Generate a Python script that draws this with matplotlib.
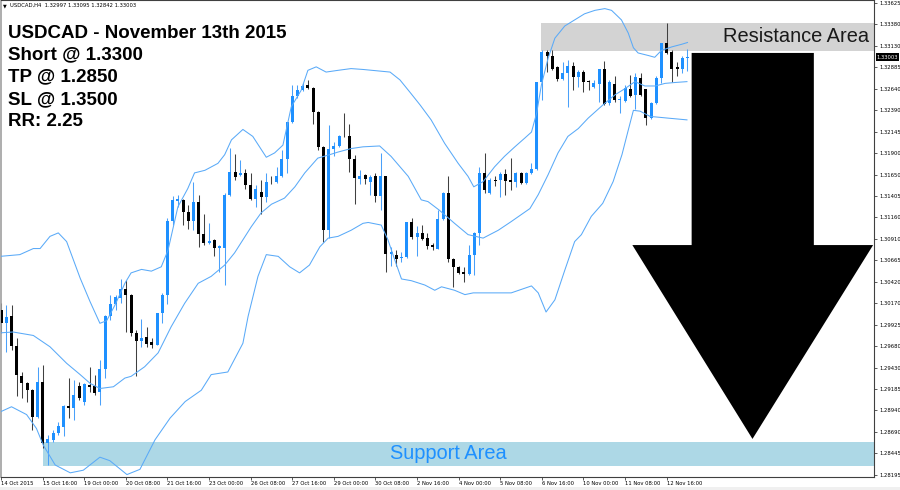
import numpy as np
import matplotlib
matplotlib.use('Agg')
import matplotlib.pyplot as plt
import matplotlib.transforms as mtransforms
from matplotlib.patches import Rectangle, Polygon

# USDCAD H4 candles, 14 Oct 2015 08:00 -> 13 Nov 2015 08:00
opens = [1.3009, 1.2994, 1.3002, 1.2968, 1.2933, 1.2925, 1.2917, 1.2886, 1.2927, 1.2856,
         1.2860, 1.2868, 1.2875, 1.2899, 1.2897, 1.2922, 1.2903, 1.2923, 1.2922, 1.2915,
         1.2942, 1.3002, 1.3016, 1.3023, 1.3033, 1.3027, 1.2983, 1.2974, 1.2978, 1.2972,
         1.2969, 1.3006, 1.3027, 1.3112, 1.3135, 1.3136, 1.3122, 1.3112, 1.3133, 1.3097,
         1.3086, 1.3090, 1.3081, 1.3081, 1.3142, 1.3168, 1.3165, 1.3167, 1.3153, 1.3137,
         1.3145, 1.3139, 1.3157, 1.3157, 1.3163, 1.3183, 1.3225, 1.3255, 1.3262, 1.3268,
         1.3265, 1.3237, 1.3197, 1.3101, 1.3194, 1.3198, 1.3210, 1.3210, 1.3183, 1.3160,
         1.3165, 1.3157, 1.3163, 1.3140, 1.3163, 1.3074, 1.3073, 1.3069, 1.3070, 1.3111,
         1.3093, 1.3098, 1.3092, 1.3084, 1.3080, 1.3114, 1.3144, 1.3068, 1.3059, 1.3053,
         1.3051, 1.3073, 1.3098, 1.3167, 1.3144, 1.3159, 1.3159, 1.3166, 1.3159, 1.3156,
         1.3167, 1.3155, 1.3167, 1.3172, 1.3271, 1.3306, 1.3301, 1.3289, 1.3275, 1.3282,
         1.3290, 1.3277, 1.3283, 1.3273, 1.3266, 1.3269, 1.3286, 1.3247, 1.3269, 1.3251,
         1.3250, 1.3264, 1.3257, 1.3276, 1.3263, 1.3230, 1.3247, 1.3276, 1.3316, 1.3306,
         1.3289, 1.3287, 1.32997]
highs = [1.3017, 1.3015, 1.3015, 1.2977, 1.2938, 1.2927, 1.2919, 1.2944, 1.2946, 1.2866,
         1.2871, 1.2881, 1.2900, 1.2931, 1.2929, 1.2927, 1.2925, 1.2944, 1.2935, 1.2952,
         1.3004, 1.3027, 1.3027, 1.3045, 1.3044, 1.3028, 1.2986, 1.2999, 1.2990, 1.2977,
         1.3006, 1.3029, 1.3115, 1.3140, 1.3142, 1.3137, 1.3130, 1.3157, 1.3142, 1.3120,
         1.3109, 1.3091, 1.3084, 1.3144, 1.3196, 1.3189, 1.3182, 1.3172, 1.3167, 1.3153,
         1.3159, 1.3167, 1.3163, 1.3174, 1.3193, 1.3226, 1.3268, 1.3268, 1.3270, 1.3274,
         1.3266, 1.3238, 1.3198, 1.3222, 1.3203, 1.3211, 1.3236, 1.3223, 1.3188, 1.3170,
         1.3166, 1.3165, 1.3167, 1.3190, 1.3164, 1.3082, 1.3078, 1.3076, 1.3111, 1.3115,
         1.3106, 1.3107, 1.3098, 1.3086, 1.3124, 1.3145, 1.3163, 1.3069, 1.3060, 1.3059,
         1.3084, 1.3099, 1.3174, 1.3190, 1.3161, 1.3163, 1.3168, 1.3172, 1.3184, 1.3168,
         1.3168, 1.3168, 1.3178, 1.3272, 1.3308, 1.3308, 1.3308, 1.3290, 1.3295, 1.3297,
         1.3295, 1.3285, 1.3285, 1.3274, 1.3274, 1.3287, 1.3296, 1.3274, 1.3278, 1.3255,
         1.3268, 1.3280, 1.3282, 1.3282, 1.3264, 1.3249, 1.3278, 1.3317, 1.3339, 1.3308,
         1.3295, 1.3301, 1.33095]
lows = [1.2983, 1.2961, 1.2963, 1.2910, 1.2908, 1.2904, 1.2871, 1.2885, 1.2850, 1.2831,
        1.2858, 1.2866, 1.2864, 1.2885, 1.2883, 1.2906, 1.2900, 1.2915, 1.2912, 1.2900,
        1.2931, 1.2998, 1.3009, 1.3017, 1.2984, 1.2979, 1.2933, 1.2967, 1.2967, 1.2966,
        1.2969, 1.2994, 1.3016, 1.3107, 1.3128, 1.3107, 1.3103, 1.3101, 1.3082, 1.3084,
        1.3085, 1.3071, 1.3053, 1.3038, 1.3140, 1.3159, 1.3163, 1.3149, 1.3136, 1.3128,
        1.3120, 1.3134, 1.3154, 1.3155, 1.3162, 1.3167, 1.3224, 1.3253, 1.3261, 1.3264,
        1.3223, 1.3193, 1.3088, 1.3092, 1.3186, 1.3197, 1.3208, 1.3168, 1.3131, 1.3154,
        1.3154, 1.3142, 1.3134, 1.3124, 1.3053, 1.3060, 1.3060, 1.3064, 1.3069, 1.3091,
        1.3071, 1.3090, 1.3079, 1.3078, 1.3079, 1.3113, 1.3065, 1.3036, 1.3051, 1.3042,
        1.3050, 1.3049, 1.3084, 1.3144, 1.3143, 1.3152, 1.3139, 1.3142, 1.3147, 1.3151,
        1.3154, 1.3154, 1.3166, 1.3170, 1.3251, 1.3283, 1.3285, 1.3273, 1.3274, 1.3243,
        1.3262, 1.3266, 1.3260, 1.3262, 1.3265, 1.3249, 1.3245, 1.3245, 1.3249, 1.3236,
        1.3249, 1.3254, 1.3241, 1.3255, 1.3222, 1.3229, 1.3246, 1.3270, 1.3304, 1.3272,
        1.3278, 1.3282, 1.32842]
closes = [1.2994, 1.3001, 1.2968, 1.2934, 1.2925, 1.2917, 1.2886, 1.2927, 1.2856, 1.2861,
          1.2868, 1.2876, 1.2899, 1.2897, 1.2911, 1.2908, 1.2924, 1.2921, 1.2914, 1.2942,
          1.3002, 1.3016, 1.3024, 1.3033, 1.3027, 1.2983, 1.2974, 1.2977, 1.2970, 1.2969,
          1.3006, 1.3027, 1.3112, 1.3136, 1.3137, 1.3122, 1.3112, 1.3133, 1.3097, 1.3086,
          1.3089, 1.3081, 1.3083, 1.3142, 1.3168, 1.3162, 1.3167, 1.3153, 1.3137, 1.3149,
          1.3139, 1.3157, 1.3156, 1.3163, 1.3183, 1.3225, 1.3255, 1.3262, 1.3267, 1.3265,
          1.3237, 1.3197, 1.3101, 1.3194, 1.3198, 1.3210, 1.3209, 1.3183, 1.3161, 1.3163,
          1.3160, 1.3162, 1.3140, 1.3163, 1.3074, 1.3076, 1.3068, 1.3070, 1.3111, 1.3093,
          1.3098, 1.3091, 1.3083, 1.3082, 1.3114, 1.3144, 1.3068, 1.3059, 1.3052, 1.3051,
          1.3073, 1.3098, 1.3167, 1.3147, 1.3159, 1.3158, 1.3166, 1.3158, 1.3156, 1.3167,
          1.3155, 1.3167, 1.3172, 1.3271, 1.3306, 1.3301, 1.3287, 1.3275, 1.3282, 1.3290,
          1.3277, 1.3283, 1.3272, 1.3271, 1.3270, 1.3286, 1.3246, 1.3272, 1.3251, 1.3252,
          1.3265, 1.3255, 1.3277, 1.3257, 1.3230, 1.3247, 1.3276, 1.3316, 1.3305, 1.3287,
          1.3287, 1.3299, 1.33003]

# Bollinger bands: (bar position, price)
upper_band = [(-0.2, 1.3071), (3.6, 1.3073), (6.2, 1.3080), (7.5, 1.3080), (9.4, 1.3094),
              (11.0, 1.3098), (12.6, 1.3088), (15.2, 1.3046), (17.1, 1.3019), (19.0, 1.2994),
              (20.3, 1.2997), (21.9, 1.3015), (23.8, 1.3040), (25.0, 1.3052), (27.0, 1.3056),
              (28.9, 1.3054), (30.8, 1.3059), (32.1, 1.3078), (34.0, 1.3128), (35.9, 1.3149),
              (37.2, 1.3167), (39.2, 1.3170), (41.7, 1.3178), (43.0, 1.3188), (44.3, 1.3205),
              (46.5, 1.3217), (48.4, 1.3209), (51.0, 1.3185), (52.6, 1.3190), (54.2, 1.3199),
              (55.8, 1.3243), (57.7, 1.3262), (59.0, 1.3285), (60.6, 1.3289), (62.5, 1.3283),
              (64.8, 1.3285), (67.3, 1.3287), (69.6, 1.3286), (74.8, 1.3283), (76.7, 1.3274),
              (78.6, 1.3260), (80.6, 1.3245), (82.7, 1.3228), (85.3, 1.3201), (87.9, 1.3178),
              (89.8, 1.3163), (90.9, 1.3151), (92.7, 1.3157), (94.9, 1.3174), (96.8, 1.3186),
              (98.8, 1.3197), (100.7, 1.3207), (102.0, 1.3214), (103.0, 1.3236), (103.9, 1.3268),
              (105.2, 1.3299), (106.5, 1.3322), (108.4, 1.3336), (110.3, 1.3343), (112.2, 1.3350),
              (114.2, 1.3354), (116.1, 1.3356), (117.4, 1.3354), (119.3, 1.3343), (120.6, 1.3328),
              (121.6, 1.3311), (122.5, 1.3305), (124.5, 1.3302), (125.7, 1.3300), (127.0, 1.3308),
              (129.0, 1.3312), (130.9, 1.3315), (132.0, 1.3317)]
middle_band = [(-0.2, 1.2983), (2.3, 1.2984), (6.2, 1.2980), (9.4, 1.2967), (12.6, 1.2948),
               (15.2, 1.2935), (17.1, 1.2925), (19.0, 1.2919), (21.6, 1.2921), (23.8, 1.2931),
               (25.0, 1.2933), (27.6, 1.2944), (30.2, 1.2960), (32.7, 1.2990), (35.3, 1.3017),
               (37.9, 1.3040), (40.4, 1.3048), (43.0, 1.3061), (44.9, 1.3075), (46.5, 1.3090),
               (48.1, 1.3105), (50.0, 1.3121), (52.0, 1.3131), (54.5, 1.3138), (56.5, 1.3151),
               (58.4, 1.3167), (60.9, 1.3184), (63.2, 1.3188), (64.8, 1.3191), (67.3, 1.3195),
               (69.6, 1.3197), (72.8, 1.3198), (75.0, 1.3186), (78.3, 1.3163), (80.8, 1.3136),
               (82.1, 1.3134), (84.3, 1.3124), (87.2, 1.3109), (89.8, 1.3096), (92.7, 1.3092),
               (95.6, 1.3101), (98.1, 1.3111), (101.7, 1.3126), (103.3, 1.3142), (105.2, 1.3165),
               (107.1, 1.3190), (109.0, 1.3209), (111.0, 1.3218), (112.9, 1.3230), (115.7, 1.3245),
               (118.1, 1.3257), (120.0, 1.3264), (121.9, 1.3272), (123.8, 1.3267), (125.8, 1.3267),
               (127.7, 1.3270), (129.6, 1.3271), (131.9, 1.3272)]
lower_band = [(-0.2, 1.2892), (2.0, 1.2898), (4.9, 1.2889), (6.8, 1.2873), (8.1, 1.2854),
              (10.4, 1.2831), (13.3, 1.2822), (15.8, 1.2825), (19.0, 1.2840), (20.9, 1.2836),
              (24.2, 1.2820), (26.7, 1.2826), (29.6, 1.2860), (32.5, 1.2885), (35.4, 1.2904),
              (38.5, 1.2917), (40.4, 1.2935), (43.6, 1.2938), (46.5, 1.2971), (47.5, 1.3002),
              (49.4, 1.3048), (51.0, 1.3073), (53.3, 1.3071), (55.5, 1.3059), (57.4, 1.3052),
              (59.3, 1.3061), (61.3, 1.3082), (62.9, 1.3092), (64.8, 1.3094), (67.3, 1.3101),
              (69.6, 1.3109), (70.6, 1.3110), (73.1, 1.3107), (74.4, 1.3090), (75.7, 1.3067),
              (77.0, 1.3045), (78.9, 1.3043), (81.5, 1.3038), (83.4, 1.3032), (84.7, 1.3036),
              (87.2, 1.3032), (89.2, 1.3027), (90.8, 1.3029), (93.6, 1.3029), (98.1, 1.3029),
              (102.0, 1.3037), (103.3, 1.3029), (104.8, 1.3007), (106.5, 1.3021), (108.4, 1.3055),
              (110.3, 1.3088), (111.6, 1.3096), (113.5, 1.3117), (115.7, 1.3132), (117.7, 1.3157),
              (119.4, 1.3188), (120.6, 1.3216), (121.6, 1.3239), (122.9, 1.3238), (124.8, 1.3232),
              (128.3, 1.3230), (131.9, 1.3228)]

time_labels = ['14 Oct 2015', '15 Oct 16:00', '19 Oct 00:00', '20 Oct 08:00', '21 Oct 16:00',
               '23 Oct 00:00', '26 Oct 08:00', '27 Oct 16:00', '29 Oct 00:00', '30 Oct 08:00',
               '2 Nov 16:00', '4 Nov 00:00', '5 Nov 08:00', '6 Nov 16:00', '10 Nov 00:00',
               '11 Nov 08:00', '12 Nov 16:00']
bars_per_label = 8
price_levels = [1.33625, 1.33380, 1.33130, 1.32885, 1.32640, 1.32390, 1.32145, 1.31900,
                1.31650, 1.31405, 1.31160, 1.30910, 1.30665, 1.30420, 1.30170, 1.29925,
                1.29680, 1.29430, 1.29185, 1.28940, 1.28690, 1.28445, 1.28195]

symbol_info = 'USDCAD,H4  1.32997 1.33095 1.32842 1.33003'
trade_notes = ['USDCAD - November 13th 2015', 'Short @ 1.3300', 'TP @ 1.2850',
               'SL @ 1.3500', 'RR: 2.25']
resistance_zone = (1.3307, 1.3339)
support_zone = (1.2830, 1.2857)
resistance_from = 103.9
support_from = 8.0

# big "sell" arrow, in bar / price units
arrow_shaft = (132.8, 156.3, 1.3305, 1.3084)
arrow_head = (121.4, 167.7, 144.5, 1.2861)

x_range = (-0.02, 167.87)
y_range = (1.28172, 1.33659)

BULL = '#1e90ff'
BEAR = '#000000'
BAND = '#5aaaf8'

plt.rcParams['font.family'] = ['Liberation Sans', 'DejaVu Sans']

fig = plt.figure(figsize=(9, 4.9), dpi=100)
ax = fig.add_axes([1 / 900, 13 / 490, 873 / 900, 477 / 490])
ax.set_xlim(*x_range)
ax.set_ylim(*y_range)

# zones
ax.add_patch(Rectangle((resistance_from, resistance_zone[0]), x_range[1] - resistance_from,
                       resistance_zone[1] - resistance_zone[0], color='#d3d3d3', lw=0, zorder=1))
ax.add_patch(Rectangle((support_from, support_zone[0]), x_range[1] - support_from,
                       support_zone[1] - support_zone[0], color='#add8e6', lw=0, zorder=1))

# candles
o = np.array(opens)
h = np.array(highs)
l = np.array(lows)
c = np.array(closes)
pos = np.arange(len(o))
up = c >= o
dn = ~up
body_lo = np.minimum(o, c)
body_h = np.maximum(np.abs(c - o), 0.0001)

ax.vlines(pos[up], l[up], h[up], color='#4aa0fa', lw=0.75, zorder=2)
ax.vlines(pos[dn], l[dn], h[dn], color='#404040', lw=0.75, zorder=2)
ax.bar(pos[up], body_h[up], bottom=body_lo[up], width=0.6, color=BULL, lw=0, zorder=3)
ax.bar(pos[dn], body_h[dn], bottom=body_lo[dn], width=0.6, color=BEAR, lw=0, zorder=3)

# bands
for band in (upper_band, middle_band, lower_band):
    bx, by = zip(*band)
    ax.plot(bx, by, color=BAND, lw=0.75, zorder=4)

# zone captions
ax.text(152.9, 1.33234, 'Resistance Area', fontsize=14.4, color='#1a1a1a',
        ha='center', va='center', zorder=5)
ax.text(86.1, 1.28438, 'Support Area', fontsize=14.4, color='#1e90ff',
        ha='center', va='center', zorder=5)

# arrow
sx0, sx1, stop, sbot = arrow_shaft
hx0, hx1, tipx, tipy = arrow_head
ax.add_patch(Polygon([(sx0, stop), (sx1, stop), (sx1, sbot), (hx1, sbot), (tipx, tipy),
                      (hx0, sbot), (sx0, sbot)], closed=True, color='black', lw=0, zorder=6))

# axes styling like the terminal window
for side in ('top', 'right', 'bottom'):
    ax.spines[side].set_color('#404040')
    ax.spines[side].set_linewidth(0.8)
ax.spines['left'].set_color('#a0a0a0')
ax.spines['left'].set_linewidth(1.2)

ax.yaxis.tick_right()
ax.set_yticks(price_levels)
ax.set_yticklabels(['%.5f' % v for v in price_levels], fontfamily='DejaVu Sans')
ax.set_xticks(np.arange(len(time_labels)) * bars_per_label)
ax.set_xticklabels(time_labels, ha='left', fontfamily='DejaVu Sans')
ax.tick_params(axis='both', length=2.2, width=0.6, color='#404040', labelsize=3.8)
ax.tick_params(axis='y', pad=1.5)
ax.tick_params(axis='x', pad=1.0)

# current price marker
trans = mtransforms.blended_transform_factory(ax.transAxes, ax.transData)
ax.text(1.003, closes[-1], '%.5f' % closes[-1], transform=trans, fontsize=3.8,
        fontfamily='DejaVu Sans', color='white', va='center', ha='left',
        bbox=dict(boxstyle='square,pad=0.2', fc='black', ec='none'), zorder=7, clip_on=False)

# header and trade notes
fig.text(3 / 900, 1 - 5.5 / 490, '\u25bc', fontsize=3.5, fontfamily='DejaVu Sans', va='center')
fig.text(10 / 900, 1 - 5.5 / 490, symbol_info, fontsize=3.8, fontfamily='DejaVu Sans', va='center')
baselines = [37.5, 59.5, 81.7, 103.9, 126.0]
for line, yb in zip(trade_notes, baselines):
    fig.text(8.3 / 900, 1 - yb / 490, line, fontsize=13.5, fontweight='bold',
             color='black', va='baseline')

fig.patches.append(Rectangle((0, 0), 1, 3 / 490, transform=fig.transFigure,
                             color='#f0f0f0', lw=0, figure=fig))

fig.savefig('out.png', dpi=100)
